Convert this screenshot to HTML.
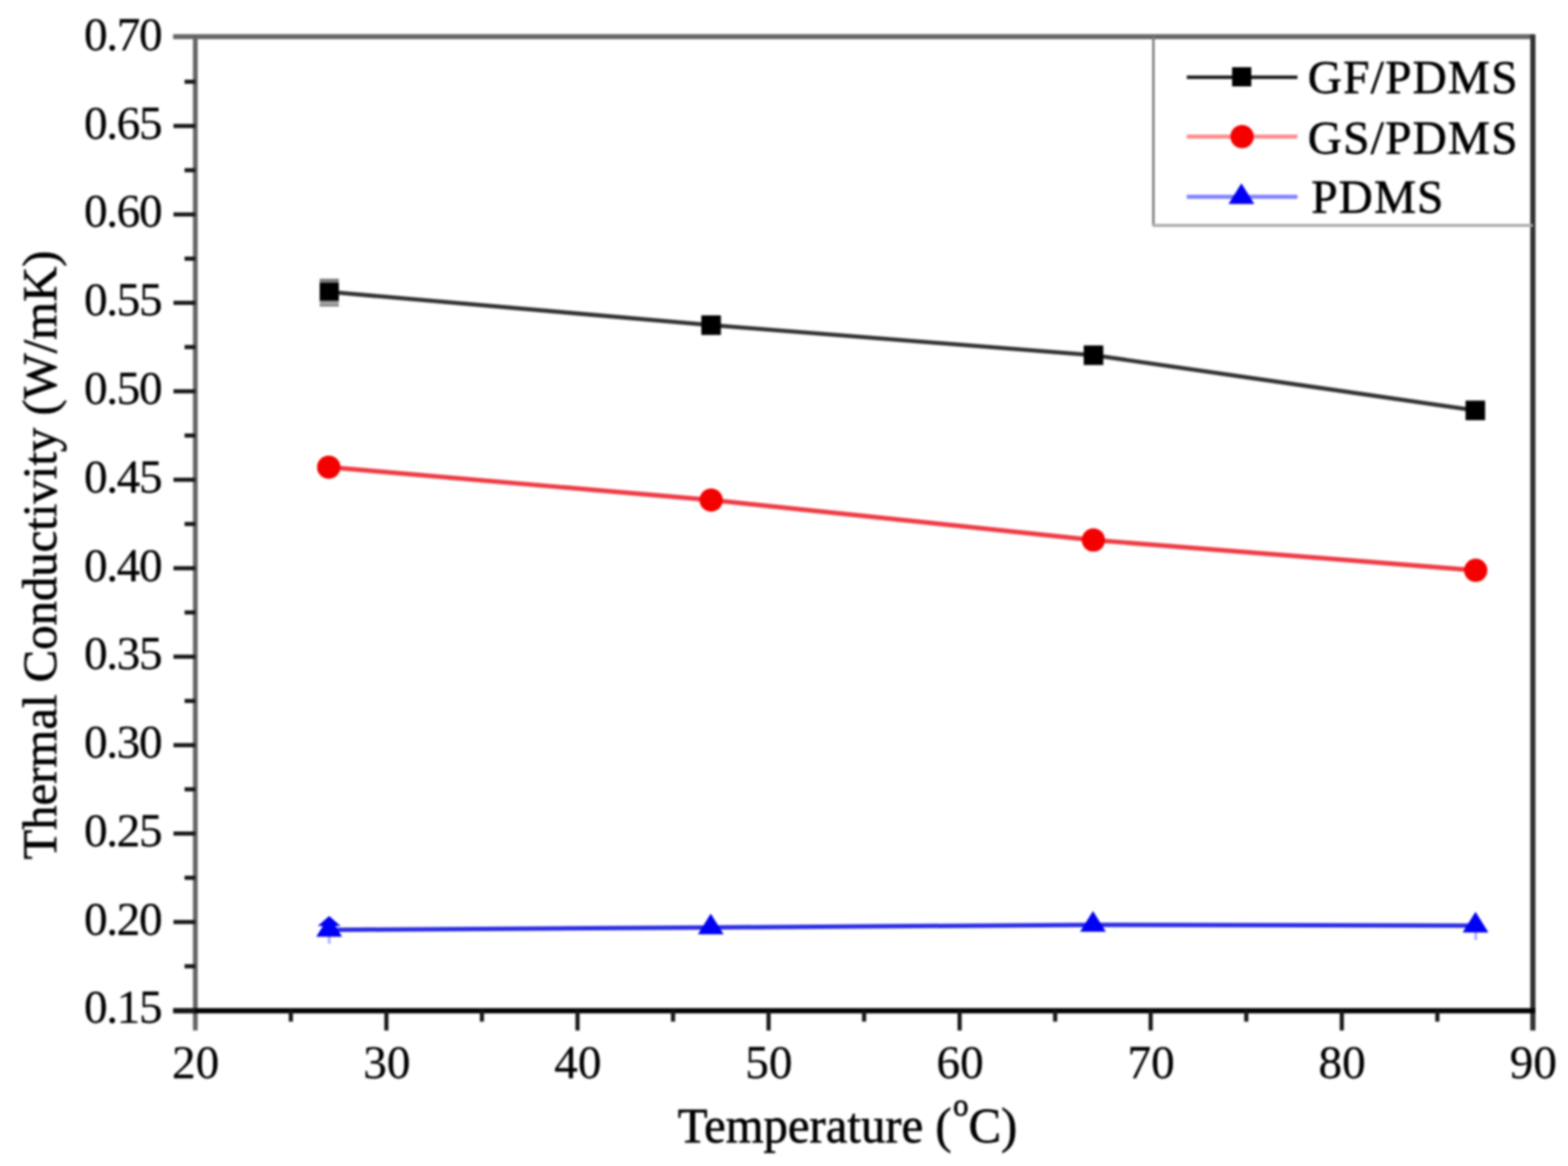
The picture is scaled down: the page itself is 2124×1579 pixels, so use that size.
<!DOCTYPE html><html><head><meta charset="utf-8"><title>Thermal Conductivity vs Temperature</title><style>html,body{margin:0;padding:0;background:#fff;width:2124px;height:1579px;overflow:hidden}svg{display:block}</style></head><body><svg width="2124" height="1579" viewBox="0 0 2124 1579"><defs><filter id="soft" x="0" y="0" width="1" height="1" color-interpolation-filters="sRGB"><feGaussianBlur stdDeviation="1.6"/></filter></defs><g filter="url(#soft)"><rect x="0" y="0" width="2124" height="1579" fill="#fff"/><line x1="234.5" y1="49.6" x2="2076.4" y2="49.6" stroke="#666" stroke-width="6.8"/><line x1="264.6" y1="49.6" x2="264.6" y2="1395.5" stroke="#646464" stroke-width="6.4"/><line x1="2076.4" y1="46.6" x2="2076.4" y2="1395.5" stroke="#303030" stroke-width="7"/><line x1="234.5" y1="1368.7" x2="2079.9" y2="1368.7" stroke="#000" stroke-width="7"/><g stroke="#161616" stroke-width="5.6" stroke-linecap="butt"><line x1="250.0" y1="110.7" x2="264.6" y2="110.7"/><line x1="235.0" y1="170.6" x2="264.6" y2="170.6"/><line x1="250.0" y1="230.5" x2="264.6" y2="230.5"/><line x1="235.0" y1="290.4" x2="264.6" y2="290.4"/><line x1="250.0" y1="350.3" x2="264.6" y2="350.3"/><line x1="235.0" y1="410.1" x2="264.6" y2="410.1"/><line x1="250.0" y1="470.0" x2="264.6" y2="470.0"/><line x1="235.0" y1="529.9" x2="264.6" y2="529.9"/><line x1="250.0" y1="589.8" x2="264.6" y2="589.8"/><line x1="235.0" y1="649.7" x2="264.6" y2="649.7"/><line x1="250.0" y1="709.6" x2="264.6" y2="709.6"/><line x1="235.0" y1="769.5" x2="264.6" y2="769.5"/><line x1="250.0" y1="829.4" x2="264.6" y2="829.4"/><line x1="235.0" y1="889.3" x2="264.6" y2="889.3"/><line x1="250.0" y1="949.2" x2="264.6" y2="949.2"/><line x1="235.0" y1="1009.1" x2="264.6" y2="1009.1"/><line x1="250.0" y1="1068.9" x2="264.6" y2="1068.9"/><line x1="235.0" y1="1128.8" x2="264.6" y2="1128.8"/><line x1="250.0" y1="1188.7" x2="264.6" y2="1188.7"/><line x1="235.0" y1="1248.6" x2="264.6" y2="1248.6"/><line x1="250.0" y1="1308.5" x2="264.6" y2="1308.5"/><line x1="235.0" y1="1368.4" x2="264.6" y2="1368.4"/><line x1="394.0" y1="1368.4" x2="394.0" y2="1383.5"/><line x1="523.4" y1="1368.4" x2="523.4" y2="1395.5"/><line x1="652.8" y1="1368.4" x2="652.8" y2="1383.5"/><line x1="782.3" y1="1368.4" x2="782.3" y2="1395.5"/><line x1="911.7" y1="1368.4" x2="911.7" y2="1383.5"/><line x1="1041.1" y1="1368.4" x2="1041.1" y2="1395.5"/><line x1="1170.5" y1="1368.4" x2="1170.5" y2="1383.5"/><line x1="1299.9" y1="1368.4" x2="1299.9" y2="1395.5"/><line x1="1429.3" y1="1368.4" x2="1429.3" y2="1383.5"/><line x1="1558.7" y1="1368.4" x2="1558.7" y2="1395.5"/><line x1="1688.2" y1="1368.4" x2="1688.2" y2="1383.5"/><line x1="1817.6" y1="1368.4" x2="1817.6" y2="1395.5"/><line x1="1947.0" y1="1368.4" x2="1947.0" y2="1383.5"/></g><line x1="1562.4" y1="49.6" x2="1562.4" y2="306" stroke="#7a7a7a" stroke-width="3.2"/><line x1="1561" y1="305.2" x2="2076.4" y2="305.2" stroke="#aaa" stroke-width="4"/><g font-family="Liberation Serif, serif" font-size="64" fill="#000" stroke="#000" stroke-width="0.3"><text x="218.5" y="67.8" text-anchor="end" letter-spacing="-1.8">0.70</text><text x="218.5" y="187.6" text-anchor="end" letter-spacing="-1.8">0.65</text><text x="218.5" y="307.4" text-anchor="end" letter-spacing="-1.8">0.60</text><text x="218.5" y="427.1" text-anchor="end" letter-spacing="-1.8">0.55</text><text x="218.5" y="546.9" text-anchor="end" letter-spacing="-1.8">0.50</text><text x="218.5" y="666.7" text-anchor="end" letter-spacing="-1.8">0.45</text><text x="218.5" y="786.5" text-anchor="end" letter-spacing="-1.8">0.40</text><text x="218.5" y="906.3" text-anchor="end" letter-spacing="-1.8">0.35</text><text x="218.5" y="1026.1" text-anchor="end" letter-spacing="-1.8">0.30</text><text x="218.5" y="1145.8" text-anchor="end" letter-spacing="-1.8">0.25</text><text x="218.5" y="1265.6" text-anchor="end" letter-spacing="-1.8">0.20</text><text x="218.5" y="1385.4" text-anchor="end" letter-spacing="-1.8">0.15</text><text x="265.1" y="1460" text-anchor="middle">20</text><text x="523.9" y="1460" text-anchor="middle">30</text><text x="782.8" y="1460" text-anchor="middle">40</text><text x="1041.6" y="1460" text-anchor="middle">50</text><text x="1300.4" y="1460" text-anchor="middle">60</text><text x="1559.2" y="1460" text-anchor="middle">70</text><text x="1818.1" y="1460" text-anchor="middle">80</text><text x="2076.9" y="1460" text-anchor="middle">90</text></g><text transform="translate(918 1547.3) scale(1 1.03)" x="0" y="0" font-family="Liberation Serif, serif" font-size="66" fill="#000" stroke="#000" stroke-width="0.8">Temperature (<tspan font-size="42" dx="2" dy="-35.5">o</tspan><tspan dy="35.5">C)</tspan></text><text transform="translate(75.5 1164) rotate(-90)" x="0" y="0" font-family="Liberation Serif, serif" font-size="66" fill="#000" stroke="#000" stroke-width="0.8">Thermal Conductivity (W/mK)</text><polyline points="445.8,395.3 963.3,440.3 1481.2,481.0 1998.4,555.7" fill="none" stroke="#303030" stroke-width="5.6"/><polyline points="445.3,632.7 963.3,677.2 1481.1,731.3 1999.0,772.3" fill="none" stroke="#ee3a44" stroke-width="6.2"/><polyline points="445.9,1259.3 962.8,1256.0 1480.5,1252.4 1998.7,1253.5" fill="none" stroke="#2c2ce4" stroke-width="6.0"/><rect x="433" y="377.5" width="26" height="6" fill="#7a7a7a"/><rect x="433" y="407" width="26" height="3" fill="#8a8a8a"/><rect x="433" y="410" width="26" height="1.6" fill="#b0b0b0"/><rect x="433" y="411.6" width="26" height="3.6" fill="#888"/><rect x="433" y="383" width="26" height="24" fill="#000"/><rect x="950.0" y="427.1" width="26.5" height="26.5" fill="#000"/><rect x="1468.0" y="467.8" width="26.5" height="26.5" fill="#000"/><rect x="1985.2" y="542.5" width="26.5" height="26.5" fill="#000"/><circle cx="445.3" cy="632.7" r="15.8" fill="#f40000"/><circle cx="963.3" cy="677.2" r="15.8" fill="#f40000"/><circle cx="1481.1" cy="731.3" r="15.8" fill="#f40000"/><circle cx="1999.0" cy="772.3" r="15.8" fill="#f40000"/><line x1="446" y1="1268" x2="446" y2="1278" stroke="#b4b4ff" stroke-width="4"/><line x1="1999" y1="1262" x2="1999" y2="1273" stroke="#b4b4ff" stroke-width="4"/><polygon points="445.9,1240.6 428.4,1268.6 463.4,1268.6" fill="#0000f4"/><polygon points="445.9,1240.6 461.4,1254.1 430.4,1254.1" fill="#0000f4"/><polygon points="962.8,1237.3 945.3,1265.3 980.3,1265.3" fill="#0000f4"/><polygon points="1480.5,1233.7 1463.0,1261.7 1498.0,1261.7" fill="#0000f4"/><polygon points="1998.7,1234.8 1981.2,1262.8 2016.2,1262.8" fill="#0000f4"/><line x1="1607.6" y1="104.6" x2="1757.5" y2="104.6" stroke="#1a1a1a" stroke-width="4.8"/><rect x="1669" y="91" width="26" height="26" fill="#000"/><line x1="1607.6" y1="185.1" x2="1757.5" y2="185.1" stroke="#ff8a8a" stroke-width="5.5"/><circle cx="1682.5" cy="185.0" r="15.8" fill="#f40000"/><line x1="1607.6" y1="266.6" x2="1757.5" y2="266.6" stroke="#8080ff" stroke-width="5.5"/><polygon points="1681.6,248.3 1664.1,276.3 1699.1,276.3" fill="#0000f4"/><g font-family="Liberation Serif, serif" font-size="64" fill="#000" stroke="#000" stroke-width="0.8"><text x="1771.5" y="125.8" textLength="284" lengthAdjust="spacing">GF/PDMS</text><text x="1771.5" y="208.4" textLength="284" lengthAdjust="spacing">GS/PDMS</text><text x="1776.2" y="288.4" textLength="179" lengthAdjust="spacing">PDMS</text></g></g></svg></body></html>
